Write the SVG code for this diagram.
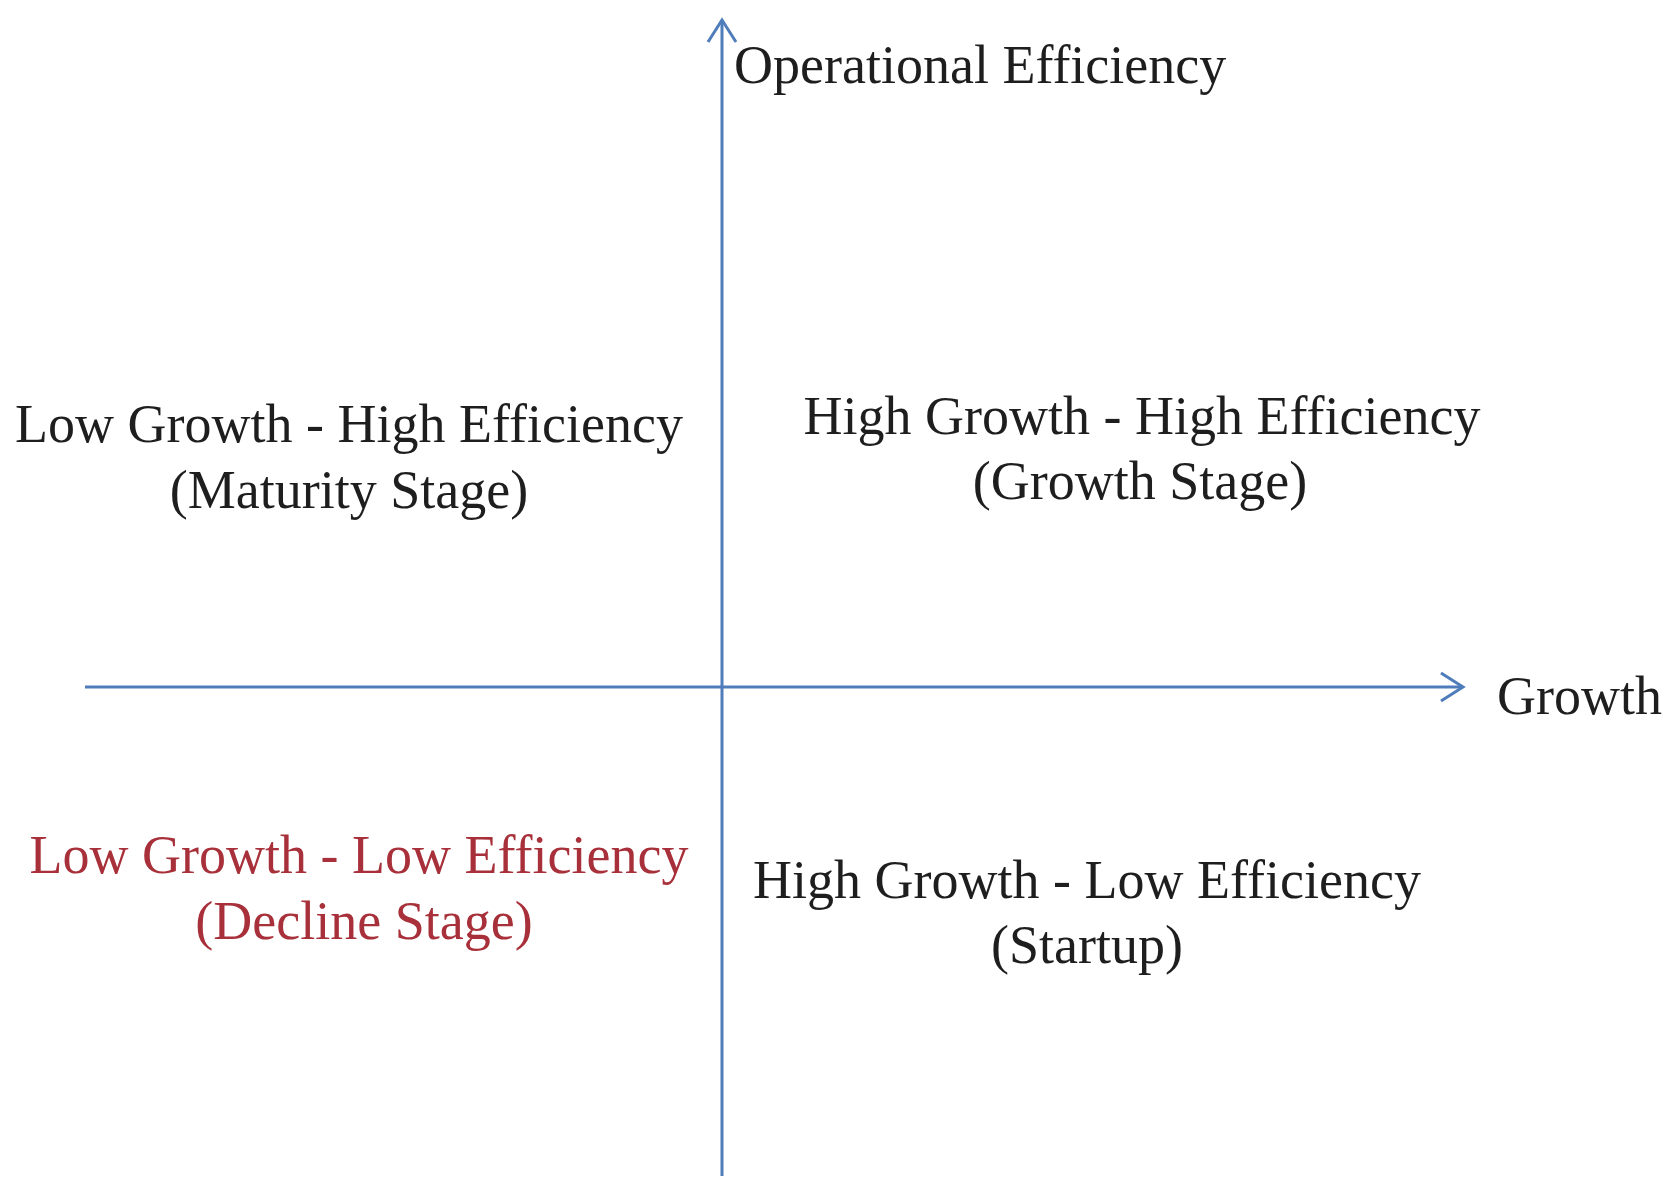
<svg xmlns="http://www.w3.org/2000/svg" width="1673" height="1193" viewBox="0 0 1673 1193">
<style>
text{font-family:"Liberation Serif","Times New Roman",serif;font-size:54px;fill:#1e1e1e}
.mid{text-anchor:middle}
.red{fill:#a8303a}
.axis{stroke:#4f7cba;stroke-width:3;fill:none}
</style>
<defs>
<marker id="chev" markerUnits="userSpaceOnUse" markerWidth="30" markerHeight="34" refX="24" refY="16" orient="auto">
<path d="M2,2 L24,16 L2,30" fill="none" stroke="#4f7cba" stroke-width="3"/>
</marker>
</defs>
<g id="connectors">
<line class="axis" x1="722" y1="1176" x2="722" y2="20" marker-end="url(#chev)"/>
<line class="axis" x1="85" y1="687" x2="1463" y2="687" marker-end="url(#chev)"/>
</g>
<g id="y-axis-label"><text x="734" y="83">Operational Efficiency</text></g>
<g id="x-axis-label"><text x="1497" y="714">Growth</text></g>
<g id="maturity">
<text class="mid" x="349" y="442">Low Growth - High Efficiency</text>
<text class="mid" x="349" y="508">(Maturity Stage)</text>
</g>
<g id="growth">
<text class="mid" x="1142" y="434">High Growth - High Efficiency</text>
<text class="mid" x="1140" y="499">(Growth Stage)</text>
</g>
<g id="decline">
<text class="mid red" x="359" y="873">Low Growth - Low Efficiency</text>
<text class="mid red" x="364" y="939">(Decline Stage)</text>
</g>
<g id="startup">
<text class="mid" x="1087" y="898">High Growth - Low Efficiency</text>
<text class="mid" x="1087" y="963">(Startup)</text>
</g>
</svg>
